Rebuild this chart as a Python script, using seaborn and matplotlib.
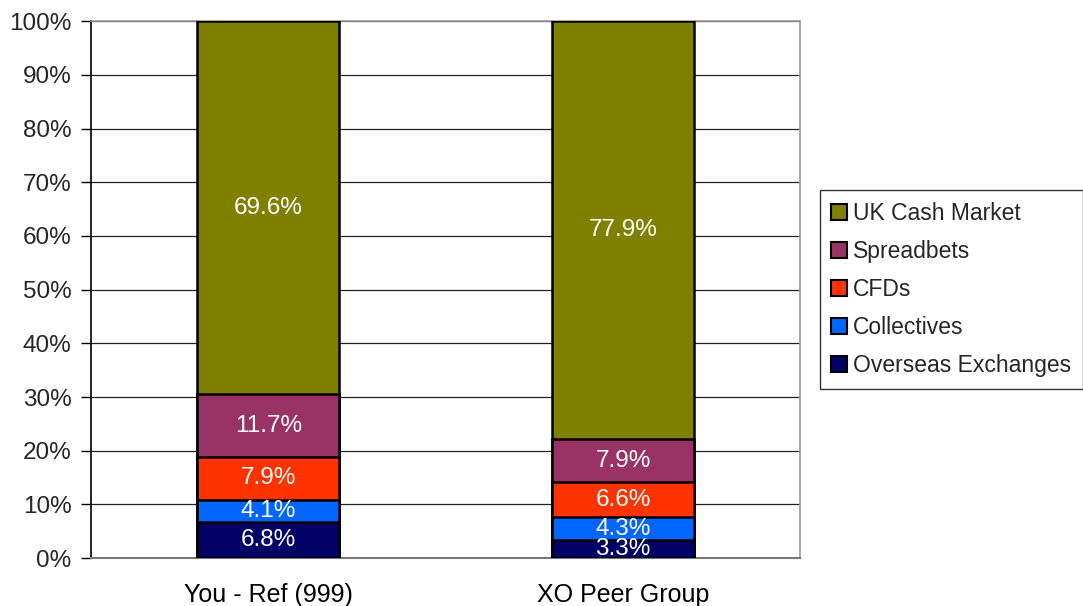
import matplotlib
matplotlib.use("Agg")
import matplotlib.pyplot as plt
from matplotlib.patches import Patch
import numpy as np
import pandas as pd
import seaborn as sns

categories = ["You - Ref (999)", "XO Peer Group"]
series = ["Overseas Exchanges", "Collectives", "CFDs", "Spreadbets", "UK Cash Market"]
overseas = [6.8, 3.3]
collectives = [4.1, 4.3]
cfds = [7.9, 6.6]
spreadbets = [11.7, 7.9]
uk_cash = [69.6, 77.9]
colors = ["#000066", "#0066FF", "#FF3300", "#993366", "#808000"]

sns.set_theme(style="white")
plt.rcParams["font.family"] = ["Liberation Sans", "DejaVu Sans"]

values = np.array([overseas, collectives, cfds, spreadbets, uk_cash])
cum = np.cumsum(values, axis=0)

fig = plt.figure(figsize=(10.83, 6.06), dpi=100)
ax = fig.add_axes([0.084, 0.079, 0.655, 0.886])

# Stack by overdrawing cumulative totals, tallest first
for i in range(len(series) - 1, -1, -1):
    df = pd.DataFrame({"cat": categories, "val": cum[i]})
    sns.barplot(data=df, x="cat", y="val", color=colors[i], width=0.4,
                edgecolor="black", linewidth=1.8, saturation=1, ax=ax, zorder=3)

# Segment labels
for j in range(len(categories)):
    for i in range(len(series)):
        base = cum[i][j] - values[i][j]
        ax.text(j, base + values[i][j] / 2, f"{values[i][j]:.1f}%",
                ha="center", va="center", color="white", fontsize=17.5, zorder=5)

ax.set_xlim(-0.5, 1.5)
ax.set_ylim(0, 100)
ax.set_yticks(np.arange(0, 101, 10))
ax.set_yticklabels([f"{t}%" for t in range(0, 101, 10)], fontsize=17.5)
ax.set_xticks([0, 1])
ax.set_xticklabels(categories, fontsize=18)
ax.set_xticks([-0.5, 0.5, 1.5], minor=True)
ax.tick_params(axis="x", which="major", length=0, pad=18, colors="black")
ax.tick_params(axis="x", which="minor", length=6, width=1, color="#555555")
ax.tick_params(axis="y", length=7, width=1, color="black", left=True, pad=7)
ax.set_xlabel("")
ax.set_ylabel("")

ax.yaxis.grid(True, color="#222222", linewidth=0.9, zorder=0)
ax.set_axisbelow(True)
for s in ["top", "right"]:
    ax.spines[s].set_color("#999999")
    ax.spines[s].set_linewidth(1.2)
ax.spines["left"].set_color("black")
ax.spines["left"].set_linewidth(1.2)
ax.spines["bottom"].set_color("#777777")
ax.spines["bottom"].set_linewidth(1.5)

handles = [Patch(facecolor=colors[i], edgecolor="black", linewidth=1.5, label=series[i])
           for i in range(len(series) - 1, -1, -1)]
leg = fig.legend(handles=handles, loc="upper left", bbox_to_anchor=(0.757, 0.686),
                 fontsize=16.5, frameon=True, fancybox=False, handlelength=0.7,
                 handleheight=0.7, handletextpad=0.25, labelspacing=0.66,
                 borderpad=0.5, borderaxespad=0)
leg.get_frame().set_edgecolor("black")
leg.get_frame().set_linewidth(1.0)

fig.savefig("out.png", dpi=100)
